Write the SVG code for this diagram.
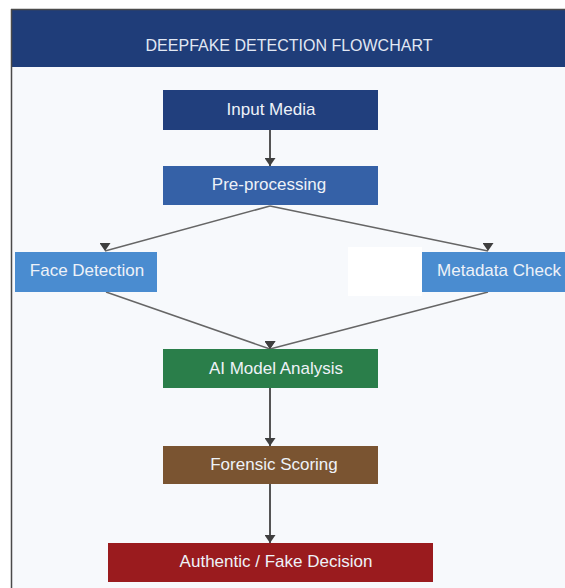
<svg xmlns="http://www.w3.org/2000/svg" width="565" height="588" viewBox="0 0 565 588">
<defs>
<style>
.node text{font-family:"Liberation Sans",Arial,sans-serif;font-size:17px;fill:#eef2f8;text-anchor:middle;}
.title{font-family:"Liberation Sans",Arial,sans-serif;font-size:16px;fill:#e2e8f3;text-anchor:middle;}
.diag{stroke:#666;stroke-width:1.5;fill:none;marker-end:url(#ah);}
.vert{stroke:#555;stroke-width:2;fill:none;marker-end:url(#ah);}
</style>
<marker id="ah" markerUnits="userSpaceOnUse" markerWidth="11" markerHeight="9" viewBox="0 0 11 9" refX="5.5" refY="8" orient="0">
<path d="M0,0 L11,0 L5.5,8 Z" fill="#3f3f3f"/>
</marker>
</defs>
<rect x="0" y="0" width="565" height="588" fill="#ffffff"/>
<rect x="11.5" y="10" width="560" height="590" fill="#f7f9fc"/>
<rect x="348" y="247" width="74" height="49" fill="#ffffff"/>
<g id="header">
<rect x="12" y="10" width="560" height="57" fill="#1f3d79"/>
<text class="title" x="289" y="51">DEEPFAKE DETECTION FLOWCHART</text>
</g>
<line x1="11" y1="9.5" x2="565" y2="9.5" stroke="#4a4a4a" stroke-width="1.5"/>
<line x1="11.5" y1="9" x2="11.5" y2="588" stroke="#4a4a4a" stroke-width="1.5"/>
<g id="connectors">
<line class="vert" x1="270" y1="130" x2="270" y2="166"/>
<line class="diag" x1="270" y1="206" x2="105" y2="251"/>
<line class="diag" x1="270" y1="206" x2="488" y2="251"/>
<line class="diag" x1="106" y1="292" x2="270" y2="349"/>
<line class="diag" x1="488" y1="292" x2="270" y2="349"/>
<line class="vert" x1="270" y1="388" x2="270" y2="446"/>
<line class="vert" x1="270" y1="484" x2="270" y2="543"/>
</g>
<g id="input-media" class="node">
<rect x="163" y="90" width="215" height="40" fill="#213f7d"/>
<text x="271" y="115">Input Media</text>
</g>
<g id="pre-processing" class="node">
<rect x="163" y="166" width="215" height="39" fill="#3561a7"/>
<text x="269" y="190">Pre-processing</text>
</g>
<g id="face-detection" class="node">
<rect x="15" y="252" width="142" height="40" fill="#4a8cd0"/>
<text x="87" y="276">Face Detection</text>
</g>
<g id="metadata-check" class="node">
<rect x="422" y="252" width="154" height="40" fill="#4a8cd0"/>
<text x="499" y="276">Metadata Check</text>
</g>
<g id="ai-model-analysis" class="node">
<rect x="163" y="349" width="215" height="39" fill="#2a7e4a"/>
<text x="276" y="374">AI Model Analysis</text>
</g>
<g id="forensic-scoring" class="node">
<rect x="163" y="446" width="215" height="38" fill="#7a5431"/>
<text x="274" y="470">Forensic Scoring</text>
</g>
<g id="decision" class="node">
<rect x="108" y="543" width="325" height="39" fill="#9a1b1e"/>
<text x="276" y="567">Authentic / Fake Decision</text>
</g>
</svg>
